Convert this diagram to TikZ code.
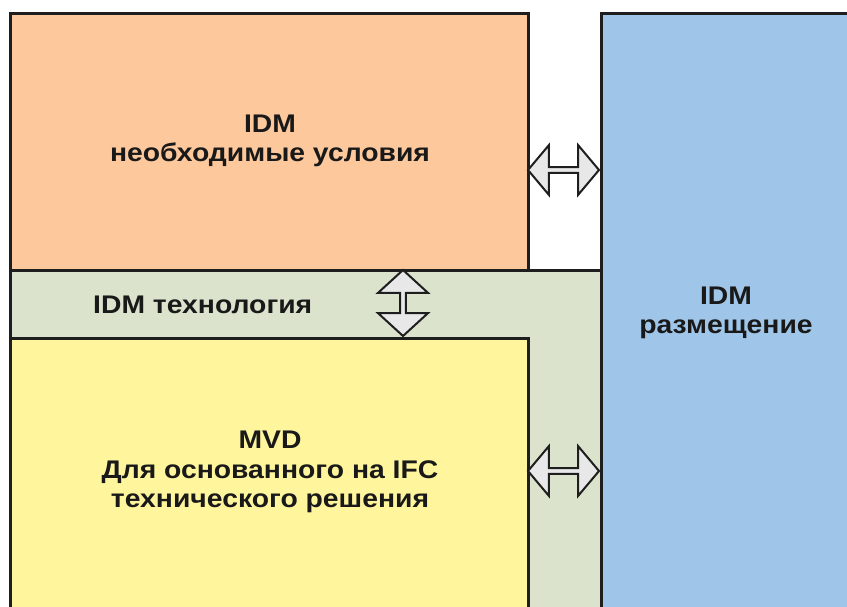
\documentclass[tikz,border=0pt]{standalone}
\usepackage{fontspec}
\setmainfont{Liberation Sans}[FakeStretch=1.11]
\usetikzlibrary{shapes.arrows}
\definecolor{reqc}{HTML}{FDC89C}
\definecolor{techc}{HTML}{DCE3CD}
\definecolor{mvdc}{HTML}{FFF59D}
\definecolor{depc}{HTML}{9FC5E8}
\definecolor{arrc}{HTML}{E8E8E8}
\definecolor{linec}{HTML}{1E1E1E}
\tikzset{
  box/.style={draw=linec, line width=3pt, inner sep=0pt, anchor=north west},
  lbl/.style={font=\fontsize{25.5}{29.5}\selectfont\bfseries, align=center, text=black!90, inner sep=0pt},
  dbl/.style={double arrow, draw=linec, fill=arrc, line width=2pt, inner sep=0pt,
    minimum width=50pt, double arrow head extend=8pt, double arrow tip angle=100,
    minimum height=71pt},
}
\begin{document}
\begin{tikzpicture}[x=1pt,y=-1pt]
\useasboundingbox (0,0) rectangle (847,607);
\begin{scope}
\clip (0,0) rectangle (847,607);
\node[box, fill=techc, minimum width=591pt, minimum height=360pt] (tech) at (9,269) {};
\node[box, fill=reqc, minimum width=518pt, minimum height=257pt] (req) at (9,12) {};
\node[box, fill=mvdc, minimum width=518pt, minimum height=300pt] (mvd) at (9,337) {};
\node[box, fill=depc, minimum width=270pt, minimum height=620pt] (dep) at (600,12) {};
\end{scope}
\node[lbl] (reqt) at (270,141) {IDM\\необходимые условия};
\node[lbl, anchor=base west] (techt) at (93,313) {IDM технология};
\node[lbl] (dept) at (726,313) {IDM\\размещение};
\node[lbl] (mvdt) at (270,472) {MVD\\Для основанного на IFC\\технического решения};
\node[dbl] (a1) at (563.5,170) {};
\node[dbl] (a2) at (563.5,471) {};
\node[dbl, rotate=90, minimum height=66pt, double arrow tip angle=95] (a3) at (403,303) {};
\end{tikzpicture}
\end{document}
